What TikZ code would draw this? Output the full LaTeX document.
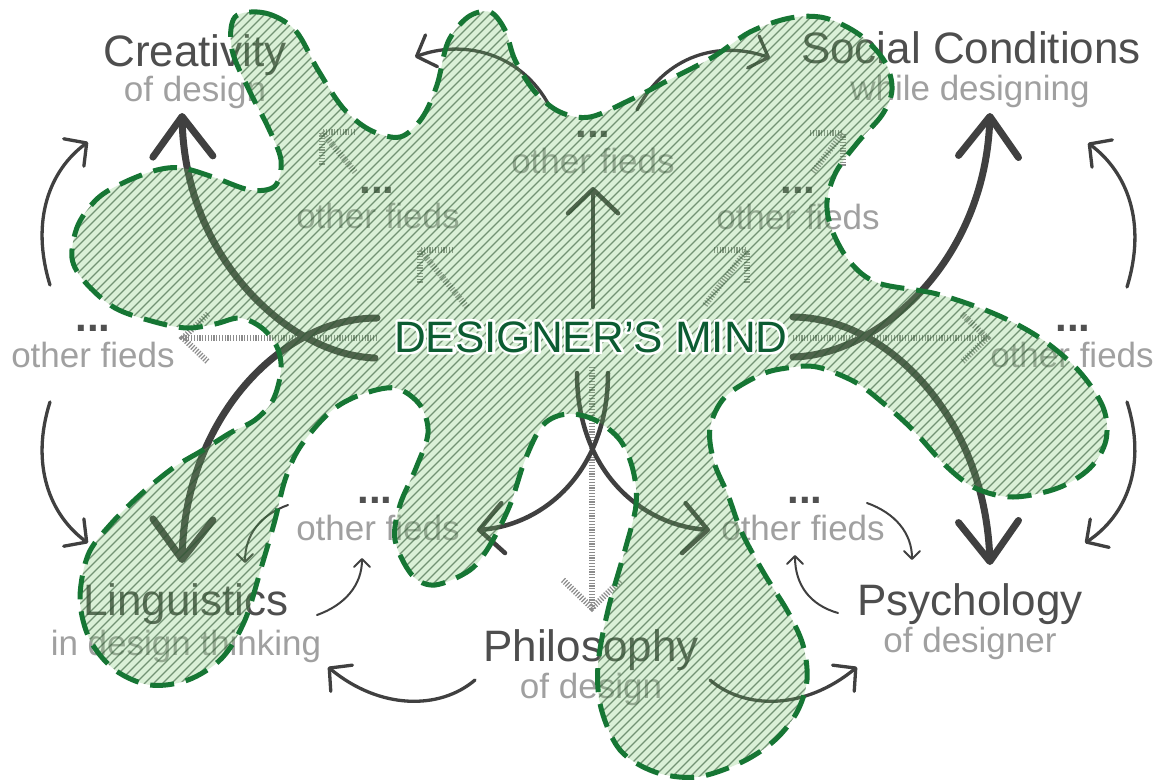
\documentclass[tikz,border=0pt]{standalone}
\usepackage{fontspec}
\setmainfont{Liberation Sans}
\usetikzlibrary{arrows.meta}
\definecolor{titlec}{RGB}{78,78,78}
\definecolor{subc}{RGB}{160,160,160}
\definecolor{dotc}{RGB}{80,80,80}
\definecolor{arrc}{RGB}{64,64,64}
\definecolor{blobg}{RGB}{120,200,110}
\definecolor{hatchc}{RGB}{45,85,50}
\definecolor{borderc}{RGB}{22,118,52}
\definecolor{dmgreen}{RGB}{12,92,50}
\definecolor{ghostc}{RGB}{140,140,140}
\newcommand{\blobshape}{plot[smooth cycle, tension=0.55] coordinates {
(235,17) (265,13) (295,30) (318,70) (343,108) (370,130) (400,137) (422,118) (437,85) (448,42)
(468,17) (490,12) (505,30) (515,60) (535,92) (560,112) (590,117) (630,100) (665,82) (713,57)
(750,32) (790,18) (825,18) (860,35) (885,62) (892,90) (882,115) (858,142) (836,172) (827,202)
(832,230) (850,262) (878,283) (937,294) (995,314) (1040,338) (1078,370) (1103,407) (1106,440) (1090,468)
(1058,488) (1013,497) (975,488) (945,465) (913,430) (883,403) (855,382) (817,367) (787,368) (760,375)
(725,397) (710,428) (714,462) (728,495) (742,533) (765,575) (788,612) (803,645) (807,680) (797,712)
(775,740) (742,762) (697,777) (655,772) (620,750) (601,708) (598,665) (608,610) (625,550) (636,505)
(633,470) (620,440) (595,420) (567,414) (543,425) (525,460) (510,505) (490,545) (470,570) (435,585)
(412,575) (395,540) (400,505) (416,468) (428,433) (420,405) (395,388) (360,395) (330,412) (300,447)
(285,480) (275,520) (262,565) (245,620) (222,658) (188,680) (150,685) (115,670) (90,640) (80,600)
(88,555) (110,525) (140,495) (173,468) (203,450) (230,433) (255,420) (273,400) (281,370) (277,347)
(262,328) (240,318) (215,324) (187,328) (155,322) (115,308) (85,282) (72,258) (78,225) (98,198)
(125,182) (157,170) (182,168) (213,177) (250,190) (275,186) (281,160) (268,127) (250,92) (232,50)}}
\begin{document}
\begin{tikzpicture}[x=1pt,y=-1pt,
  ttl/.style={anchor=base, inner sep=0pt, text=titlec, font=\fontsize{44}{48}\selectfont},
  subt/.style={anchor=base, inner sep=0pt, text=subc, font=\fontsize{35}{40}\selectfont},
  dotsty/.style={anchor=base, inner sep=0pt, text=dotc, font=\fontsize{42}{46}\selectfont\bfseries},
  dmtext/.style={anchor=base, inner sep=0pt, font=\fontsize{44}{48}\selectfont},
  bigarr/.style={draw=arrc, line width=7pt, line cap=round, -{Straight Barb[length=40pt,width=60pt,round]}},
  midarr/.style={draw=arrc, line width=4.5pt, line cap=round, -{Straight Barb[length=24pt,width=50pt,round]}},
  periarr/.style={draw=arrc, line width=3.3pt, line cap=round, -{Straight Barb[length=16pt,width=34pt,round]}},
  smallarr/.style={draw=arrc, line width=2pt, line cap=round, -{Straight Barb[length=8pt,width=16pt,round]}},
  ghost/.style={draw=ghostc, line width=6pt, dash pattern=on 1.2pt off 1.6pt},
  blobfill/.style={fill=blobg, fill opacity=0.27},
  hatchline/.style={draw=hatchc, line width=1.3pt, draw opacity=0.6},
  blobborder/.style={draw=borderc, line width=5pt, dash pattern=on 24pt off 12pt}
]
\useasboundingbox (0,0) rectangle (1160,780);
\fill[white] (0,0) rectangle (1160,780);

% ---- labels ----
\node[ttl] (cre) at (195,66) {Creativity};
\node[subt] (cres) at (195,101.5) {of design};
\node[ttl] (soc) at (971,63) {Social Conditions};
\node[subt] (socs) at (970,100) {while designing};
\node[ttl] (lin) at (186,615) {Linguistics};
\node[subt] (lins) at (186,655) {in design thinking};
\node[ttl] (phi) at (591,661) {Philosophy};
\node[subt] (phis) at (591,698) {of design};
\node[ttl] (psy) at (970,615) {Psychology};
\node[subt] (psys) at (970,652) {of designer};

\node[dotsty] (d1) at (93,331) {...};
\node[subt] (o1) at (93,367) {other fieds};
\node[dotsty] (d2) at (1073,331) {...};
\node[subt] (o2) at (1072,367) {other fieds};
\node[dotsty] (d3) at (593,137) {...};
\node[subt] (o3) at (593,173) {other fieds};
\node[dotsty] (d4) at (377,193) {...};
\node[subt] (o4) at (378,228) {other fieds};
\node[dotsty] (d5) at (798,193) {...};
\node[subt] (o5) at (798,229) {other fieds};
\node[dotsty] (d6) at (375,503) {...};
\node[subt] (o6) at (378,540) {other fieds};
\node[dotsty] (d7) at (805,503) {...};
\node[subt] (o7) at (803,540) {other fieds};

% ---- connector end points ----
\coordinate (crS) at (375,358); \coordinate (crE) at (182,113);
\coordinate (liS) at (377,318); \coordinate (liE) at (182,563);
\coordinate (soS) at (793,357); \coordinate (soE) at (990,113);
\coordinate (psS) at (793,317); \coordinate (psE) at (990,565);
\coordinate (upS) at (593,307); \coordinate (upE) at (593,187);
\coordinate (xrS) at (577,373); \coordinate (xrE) at (710,530);
\coordinate (xlS) at (608,373); \coordinate (xlE) at (477,530);
\coordinate (c1S) at (550,107); \coordinate (c1E) at (415,57);
\coordinate (c2S) at (637,110); \coordinate (c2E) at (770,58);
\coordinate (c3S) at (50,285);  \coordinate (c3E) at (88,142);
\coordinate (c4S) at (50,402);  \coordinate (c4E) at (88,543);
\coordinate (c5S) at (1127,287); \coordinate (c5E) at (1088,143);
\coordinate (c6S) at (1127,402); \coordinate (c6E) at (1085,543);
\coordinate (c7S) at (475,680); \coordinate (c7E) at (328,667);
\coordinate (c8S) at (710,680); \coordinate (c8E) at (857,667);
\coordinate (s1S) at (288,505); \coordinate (s1E) at (245,563);
\coordinate (s2S) at (317,615); \coordinate (s2E) at (362,558);
\coordinate (s3S) at (867,503); \coordinate (s3E) at (912,560);
\coordinate (s4S) at (838,613); \coordinate (s4E) at (795,555);

% ghost arrows
\coordinate (g1S) at (377,338); \coordinate (g1E) at (183,338); \coordinate (g1a) at (208,314); \coordinate (g1b) at (208,362);
\coordinate (g2S) at (793,338); \coordinate (g2E) at (987,338); \coordinate (g2a) at (962,314); \coordinate (g2b) at (962,362);
\coordinate (g3S) at (592,367); \coordinate (g3E) at (592,608); \coordinate (g3a) at (563,580); \coordinate (g3b) at (621,580);
\coordinate (g4S) at (467,307); \coordinate (g4E) at (420,250); \coordinate (g4a) at (453,250); \coordinate (g4b) at (420,283);
\coordinate (g5S) at (355,172); \coordinate (g5E) at (322,132); \coordinate (g5a) at (355,132); \coordinate (g5b) at (322,165);
\coordinate (g6S) at (705,305); \coordinate (g6E) at (747,250); \coordinate (g6a) at (714,250); \coordinate (g6b) at (747,283);
\coordinate (g7S) at (813,172); \coordinate (g7E) at (843,133); \coordinate (g7a) at (810,133); \coordinate (g7b) at (843,166);

\foreach \g in {g1,g2,g3,g4,g5,g6,g7}{
  \draw[ghost] (\g S) -- (\g E);
  \draw[ghost] (\g a) -- (\g E) -- (\g b);
}

% ---- thick arrows ----
\draw[bigarr] (crS) .. controls (290,355) and (185,260) .. (crE);
\draw[bigarr] (liS) .. controls (280,318) and (185,420) .. (liE);
\draw[bigarr] (soS) .. controls (880,355) and (985,260) .. (soE);
\draw[bigarr] (psS) .. controls (890,318) and (985,420) .. (psE);

% ---- medium arrows ----
\draw[midarr] (upS) -- (upE);
\draw[midarr] (xrS) .. controls (577,470) and (640,525) .. (xrE);
\draw[midarr] (xlS) .. controls (608,470) and (545,525) .. (xlE);

% ---- peripheral arrows ----
\draw[periarr] (c1S) .. controls (520,50) and (460,40) .. (c1E);
\draw[periarr] (c2S) .. controls (665,55) and (720,40) .. (c2E);
\draw[periarr] (c3S) .. controls (30,220) and (50,170) .. (c3E);
\draw[periarr] (c4S) .. controls (30,465) and (50,515) .. (c4E);
\draw[periarr] (c5S) .. controls (1147,222) and (1127,172) .. (c5E);
\draw[periarr] (c6S) .. controls (1147,465) and (1127,515) .. (c6E);
\draw[periarr] (c7S) .. controls (440,710) and (380,710) .. (c7E);
\draw[periarr] (c8S) .. controls (745,710) and (805,710) .. (c8E);

% ---- small arrows ----
\draw[smallarr] (s1S) .. controls (260,515) and (245,535) .. (s1E);
\draw[smallarr] (s2S) .. controls (345,605) and (362,585) .. (s2E);
\draw[smallarr] (s3S) .. controls (895,513) and (912,533) .. (s3E);
\draw[smallarr] (s4S) .. controls (810,605) and (795,585) .. (s4E);

% ---- blob ----
\fill[blobfill] \blobshape;
\begin{scope}
  \clip \blobshape;
  \foreach \k in {-790,-781,...,1170} {
    \draw[hatchline] (\k,790) -- ++(800,-800);
  }
\end{scope}
\draw[blobborder] \blobshape;

% ---- centre title with white outline (stroked copy behind the fill) ----
\node[dmtext, text=dmgreen] (dm) at (591,352) {\rlap{\special{pdf:literal direct 1 Tr 5 w 1 j 1 1 1 RG}DESIGNER’S MIND\special{pdf:literal direct 0 Tr}}DESIGNER’S MIND};
\end{tikzpicture}
\end{document}
